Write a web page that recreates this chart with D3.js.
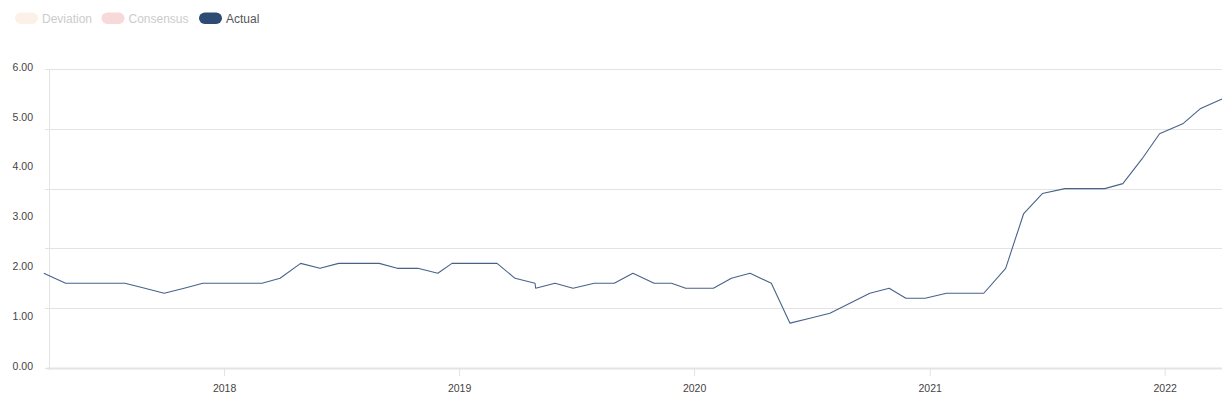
<!DOCTYPE html>
<html>
<head>
<meta charset="utf-8">
<script src="https://cdn.jsdelivr.net/npm/d3@7"></script>
<style>
  html, body { margin: 0; padding: 0; background: #fff; }
  svg { display: block; font-family: "Liberation Sans", Arial, sans-serif; }
</style>
</head>
<body>
<svg id="chart" width="1232" height="400"></svg>
<script>
const legendLabels = ["Deviation", "Consensus", "Actual"];
const legendColors = ["#fbf1e7", "#f6d9d8", "#2e4b74"];
const legendTextColors = ["#cccccc", "#cccccc", "#555555"];

const dates = [
  "2017-03-27","2017-04-30","2017-05-31","2017-06-30","2017-07-31","2017-08-31","2017-09-30",
  "2017-10-31","2017-11-29","2017-12-29","2018-01-31","2018-03-01","2018-03-29","2018-04-30",
  "2018-05-30","2018-06-28","2018-07-30","2018-08-30","2018-09-27","2018-10-29","2018-11-29",
  "2018-12-21","2019-01-30","2019-03-01","2019-03-29","2019-04-29","2019-04-30","2019-05-30",
  "2019-06-27","2019-07-30","2019-08-30","2019-09-28","2019-10-31","2019-11-27","2019-12-19",
  "2020-01-31","2020-02-28","2020-03-28","2020-04-30","2020-05-29","2020-06-29","2020-07-30",
  "2020-08-30","2020-09-30","2020-10-30","2020-11-25","2020-12-25","2021-01-27","2021-02-26",
  "2021-03-26","2021-04-29","2021-05-27","2021-06-25","2021-07-30","2021-08-30","2021-09-30",
  "2021-10-28","2021-11-27","2021-12-24","2022-01-29","2022-02-25","2022-03-31"
];
const actual = [
  1.9,1.7,1.7,1.7,1.7,1.6,1.5,
  1.6,1.7,1.7,1.7,1.7,1.8,2.1,
  2.0,2.1,2.1,2.1,2.0,2.0,1.9,
  2.1,2.1,2.1,1.8,1.7,1.6,1.7,
  1.6,1.7,1.7,1.9,1.7,1.7,1.6,
  1.6,1.8,1.9,1.7,0.9,1.0,1.1,
  1.3,1.5,1.6,1.4,1.4,1.5,1.5,
  1.5,2.0,3.1,3.5,3.6,3.6,3.6,
  3.7,4.2,4.7,4.9,5.2,5.4
];
const yTickValues = [0, 1, 2, 3, 4, 5, 6];
const gridValues = [0, 1.2, 2.4, 3.6, 4.8, 6.0];
const xDomain = ["2017-04-01", "2022-03-31"];

const parse = d3.timeParse("%Y-%m-%d");
const data = dates.map((d, i) => ({ date: parse(d), value: actual[i] }));

const svg = d3.select("#chart");
const plotLeft = 47, plotRight = 1222, plotTop = 69, plotBottom = 368;

const x = d3.scaleTime().domain(xDomain.map(parse)).range([plotLeft, plotRight]);
const y = d3.scaleLinear().domain([0, 6]).range([plotBottom, plotTop]);

// Legend
const legend = svg.append("g");
const legendX = [15, 101.5, 199];
legendLabels.forEach((lab, i) => {
  const g = legend.append("g").attr("transform", `translate(${legendX[i]},12.5)`);
  g.append("rect").attr("width", 23).attr("height", 11.5).attr("rx", 5.75).attr("ry", 5.75)
    .attr("fill", legendColors[i]);
  g.append("text").attr("x", 27).attr("y", 10.5).attr("font-size", 12)
    .attr("fill", legendTextColors[i]).text(lab);
});

// Gridlines
svg.append("g").selectAll("line").data(gridValues).join("line")
  .attr("x1", 45).attr("x2", plotRight)
  .attr("y1", d => Math.round(y(d)) + 0.5).attr("y2", d => Math.round(y(d)) + 0.5)
  .attr("stroke", "#e3e3e3").attr("stroke-width", 1);

// Y axis line
svg.append("line").attr("x1", 49.5).attr("x2", 49.5).attr("y1", plotTop).attr("y2", plotBottom + 2)
  .attr("stroke", "#e3e3e3");

// Y labels
svg.append("g").selectAll("text").data(yTickValues).join("text")
  .attr("x", 33).attr("y", d => y(d) - 2).attr("dy", "0.35em")
  .attr("text-anchor", "end").attr("font-size", 10.5).attr("fill", "#444")
  .text(d => d3.format(".2f")(d));

// X axis
const xAxis = svg.append("g").attr("transform", `translate(0,${plotBottom})`)
  .call(d3.axisBottom(x).ticks(d3.timeYear.every(1)).tickFormat(d3.timeFormat("%Y"))
    .tickSize(8).tickPadding(9));
xAxis.select(".domain").attr("stroke", "#e3e3e3").attr("stroke-width", 2)
  .attr("d", `M${plotLeft},0.5H${plotRight}`);
xAxis.selectAll(".tick line").attr("stroke", "#e3e3e3");
xAxis.selectAll(".tick text").attr("font-size", 10.5).attr("fill", "#444")
  .attr("font-family", "'Liberation Sans', Arial, sans-serif");

// Line
const line = d3.line().x(d => x(d.date)).y(d => y(d.value));
svg.append("path").datum(data).attr("d", line)
  .attr("fill", "none").attr("stroke", "#4a6289").attr("stroke-width", 1.1)
  .attr("stroke-linejoin", "round");
</script>
</body>
</html>
